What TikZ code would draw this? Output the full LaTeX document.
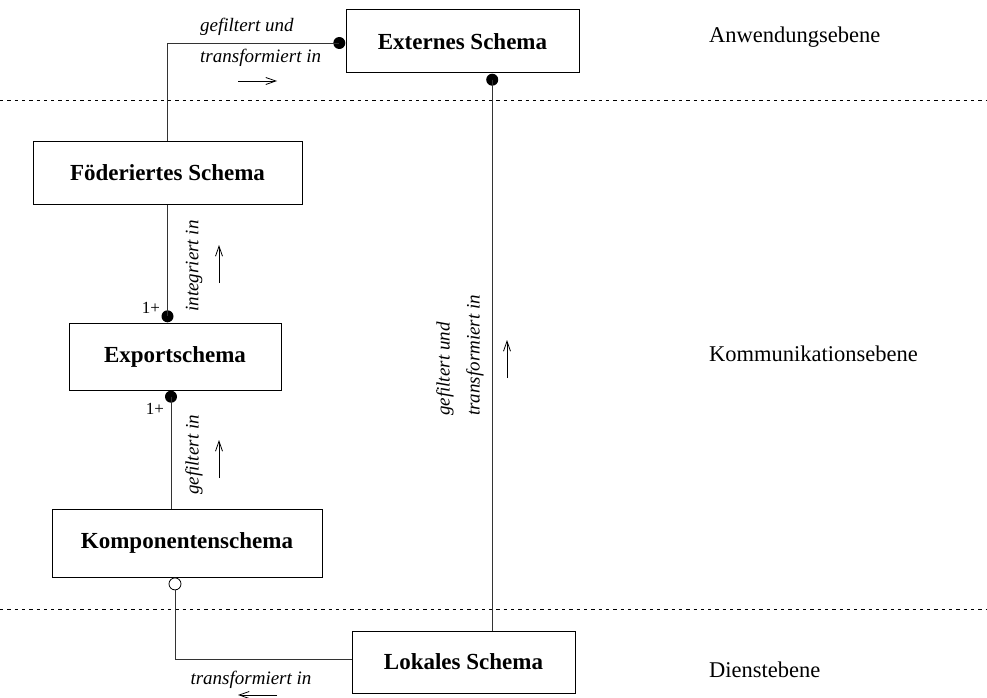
\documentclass[tikz,border=0pt]{standalone}
\usepackage{fontspec}
\setmainfont{Liberation Serif}
\usetikzlibrary{arrows.meta,calc}
\tikzset{
  schemabox/.style={draw, line width=1pt, inner sep=0pt, font=\fontsize{23}{26}\selectfont\bfseries},
  conn/.style={line width=0.9pt, draw=black!80},
  lbl/.style={inner sep=0pt, font=\fontsize{19}{22}\selectfont\itshape},
  tier/.style={inner sep=0pt, anchor=base west, font=\fontsize{22.5}{26}\selectfont},
  mult/.style={inner sep=0pt, font=\fontsize{17}{20}\selectfont},
  sep/.style={line width=0.8pt, dash pattern=on 3.3pt off 4pt},
  fdot/.style={circle, fill=black, inner sep=0pt, minimum size=12pt},
  odot/.style={circle, draw, fill=white, line width=0.8pt, inner sep=0pt, minimum size=12pt},
  dirarrow/.style={line width=0.8pt, -{Straight Barb[length=10pt,width=7pt]}}
}
\begin{document}
\begin{tikzpicture}[x=1pt,y=-1pt]
\useasboundingbox (0,0) rectangle (987,698);
% separators
\coordinate (s1l) at (0,100); \coordinate (s1r) at (987,100);
\coordinate (s2l) at (0,609); \coordinate (s2r) at (987,609);
\draw[sep] (s1l) -- (s1r);
\draw[sep] (s2l) -- (s2r);
% boxes
\node[schemabox, minimum width=233pt, minimum height=63pt] (ext) at (462.5,41.5) {Externes Schema};
\node[schemabox, minimum width=269pt, minimum height=63pt] (foed) at (167.5,172.5) {Föderiertes Schema};
\node[schemabox, minimum width=212pt, minimum height=67pt] (exp) at (175,356.5) {Exportschema};
\node[schemabox, minimum width=270pt, minimum height=68pt] (komp) at (187,543) {Komponentenschema};
\node[schemabox, minimum width=223pt, minimum height=62pt] (lok) at (463.5,662) {Lokales Schema};
% tier labels
\node[tier] (t1) at (709,43) {Anwendungsebene};
\node[tier] (t2) at (709,361) {Kommunikationsebene};
\node[tier] (t3) at (709,677) {Dienstebene};
% dots
\node[fdot, anchor=east] (d1) at ([yshift=-1.5pt]ext.west) {};
\coordinate (extb) at ($(ext.south west)!0.627!(ext.south east)$);
\node[fdot, anchor=north] (d2) at (extb) {};
\node[fdot, anchor=south] (d3) at (foed.south |- exp.north) {};
\coordinate (expb) at ([xshift=-4pt]exp.south);
\node[fdot, anchor=north] (d4) at (expb) {};
\coordinate (kompb) at ([xshift=-12pt]komp.south);
\node[odot, anchor=north] (d5) at (kompb) {};
% connectors
\draw[conn] (d1.center) -| (foed.north);
\draw[conn] (foed.south) -- (d3.center);
\draw[conn] (d4.center) -- (d4.center |- komp.north);
\draw[conn] (d2.center) -- (d2.center |- lok.north);
\draw[conn] (d5.south) |- ([yshift=3pt]lok.west);
% multiplicities
\node[mult] (m1) at (151,308) {1+};
\node[mult] (m2) at (155,409) {1+};
% labels
\node[lbl, anchor=west] (l1) at (200,27) {gefiltert und};
\node[lbl, anchor=west] (l2) at (200,58) {transformiert in};
\coordinate (a1s) at (238,81); \coordinate (a1e) at (277,81);
\draw[dirarrow] (a1s) -- (a1e);
\node[lbl, rotate=90] (l3) at (194,266) {integriert in};
\coordinate (a2s) at (219,283); \coordinate (a2e) at (219,245);
\draw[dirarrow] (a2s) -- (a2e);
\node[lbl, rotate=90] (l4) at (194,455) {gefiltert in};
\coordinate (a3s) at (219,478); \coordinate (a3e) at (219,440);
\draw[dirarrow] (a3s) -- (a3e);
\node[lbl, rotate=90, anchor=west] (l5) at (445,416) {gefiltert und};
\node[lbl, rotate=90, anchor=west] (l6) at (475,416) {transformiert in};
\coordinate (a4s) at (507,378); \coordinate (a4e) at (507,340);
\draw[dirarrow] (a4s) -- (a4e);
\node[lbl] (l7) at (251,680) {transformiert in};
\coordinate (a5s) at (277,695); \coordinate (a5e) at (238,695);
\draw[dirarrow] (a5s) -- (a5e);
\end{tikzpicture}
\end{document}
